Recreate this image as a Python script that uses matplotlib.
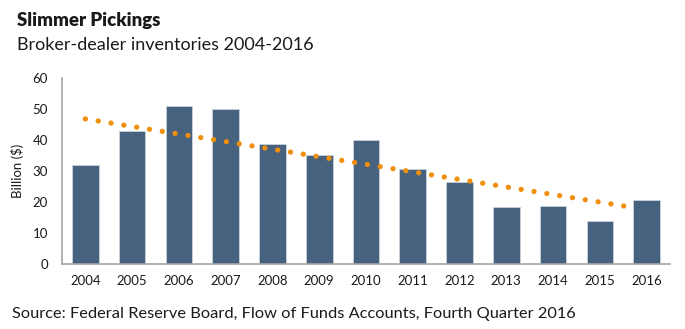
import matplotlib
matplotlib.use("Agg")
import matplotlib.pyplot as plt

years = ["2004", "2005", "2006", "2007", "2008", "2009", "2010",
         "2011", "2012", "2013", "2014", "2015", "2016"]
inventories = [32, 43, 51, 50, 38.6, 35.2, 40, 30.7, 26.4, 18.4, 18.7, 13.8, 20.8]
trend_x = [0, 11.6]          # category positions of trendline ends
trend_y = [46.8, 18.5]
yticks = [0, 10, 20, 30, 40, 50, 60]

plt.rcParams['font.family'] = ['Lato', 'DejaVu Sans']

fig = plt.figure(figsize=(6.85, 3.29), dpi=100)
ax = fig.add_axes([62/685, 1 - 264/329, (670-62)/685, (264-78)/329])

x = list(range(len(years)))
ax.bar(x, inventories, width=0.57, color="#46627f", edgecolor="#c9d3dd", linewidth=0.6, zorder=2)
ax.plot(trend_x, trend_y, color="#f0900a", lw=3.8, linestyle=(0, (0.01, 2.45)),
        dash_capstyle='round', zorder=3)

ax.set_xlim(-0.5, 12.5)
ax.set_ylim(0, 60)
ax.set_yticks(yticks)
ax.set_xticks(x)
ax.set_xticklabels(years)
ax.tick_params(axis='both', length=0, labelsize=9.5, colors="#1a1a1a")
ax.tick_params(axis='y', pad=10)
ax.tick_params(axis='x', pad=8)
for s in ["top", "right"]:
    ax.spines[s].set_visible(False)
for s in ["left", "bottom"]:
    ax.spines[s].set_color("#a6a6a6")
    ax.spines[s].set_linewidth(1.2)
ax.set_ylabel("Billion ($)", fontsize=9.5, color="#1a1a1a", labelpad=6)

fig.text(17/685, 1 - 26/329, "Slimmer Pickings", fontsize=13.4, fontweight='heavy', color="#1a1a1a")
fig.text(17/685, 1 - 50/329, "Broker-dealer inventories 2004-2016", fontsize=13, color="#1a1a1a")
fig.text(12/685, 1 - 318/329, "Source: Federal Reserve Board, Flow of Funds Accounts, Fourth Quarter 2016",
         fontsize=11.8, color="#1a1a1a")

fig.savefig("out.png", dpi=100)
